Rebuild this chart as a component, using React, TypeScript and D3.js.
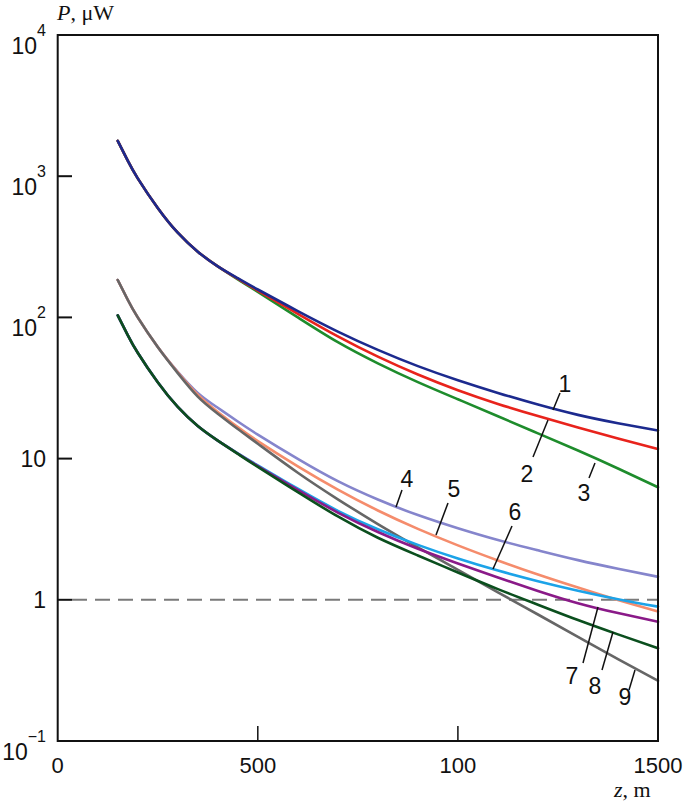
import React from 'react';
import * as d3 from 'd3';

// distances along z, m
const zValues = [150, 175, 200, 250, 300, 350, 400, 450, 500, 600, 700, 800, 900, 1000, 1100, 1200, 1300, 1400, 1500];

// P, µW
const curve1 = [1778, 1288, 966, 596, 398, 292, 230, 189.5, 157.6, 110.9, 79.4, 58.9, 45.2, 35.9, 29.2, 24.15, 20.4, 17.8, 15.8];
const curve2 = [1778, 1288, 966, 596, 398, 292, 230, 187.9, 154.9, 105.9, 73.3, 52.7, 39.4, 30.5, 24.4, 20.0, 16.6, 13.9, 11.7];
const curve3 = [1778, 1288, 966, 596, 398, 292, 230, 186.2, 151.4, 100, 66.8, 47.3, 34.8, 26.3, 19.95, 15.1, 11.4, 8.51, 6.27];
const curve4 = [184, 133.4, 100, 61.7, 41.2, 29.2, 22.9, 18.3, 14.8, 9.95, 6.92, 5.13, 3.98, 3.21, 2.65, 2.24, 1.91, 1.66, 1.455];
const curve5 = [184, 133.4, 100, 61.7, 40.9, 28.35, 21.4, 16.7, 13.3, 8.81, 6.03, 4.29, 3.18, 2.43, 1.9, 1.51, 1.22, 0.995, 0.826];
const curve6 = [103.5, 75, 56.2, 34.7, 23.2, 17, 13.41, 10.9, 8.95, 6.12, 4.27, 3.16, 2.45, 1.96, 1.61, 1.355, 1.16, 1.01, 0.895];
const curve7 = [103.5, 75, 56.2, 34.7, 23.2, 17, 13.41, 10.85, 8.85, 6.0, 4.15, 3.02, 2.3, 1.81, 1.44, 1.156, 0.946, 0.805, 0.698];
const curve8 = [103.5, 75, 56.2, 34.7, 23.2, 17, 13.41, 10.8, 8.73, 5.79, 3.89, 2.75, 2.06, 1.56, 1.19, 0.923, 0.719, 0.569, 0.454];
const curve9 = [184, 133.4, 100, 61.7, 40.3, 27.5, 20.8, 16.2, 12.74, 7.94, 5.15, 3.44, 2.355, 1.63, 1.13, 0.787, 0.547, 0.38, 0.267];

const xTickValues = [0, 500, 1000, 1500];
const xTickLabels = ['0', '500', '100', '1500'];
const yTickValues = [1e4, 1e3, 1e2, 10, 1, 0.1];
const yTickBase = ['10', '10', '10', '10', '1', '10'];
const yTickExp = ['4', '3', '2', '', '', '\u22121'];

const labelNames = ['1', '2', '3', '4', '5', '6', '7', '8', '9'];

// drawing order: back to front
const series = [
  { name: '4', values: curve4, color: '#8585cc' },
  { name: '5', values: curve5, color: '#f58c6c' },
  { name: '9', values: curve9, color: '#666666' },
  { name: '6', values: curve6, color: '#1ca3e8' },
  { name: '7', values: curve7, color: '#8a1a88' },
  { name: '8', values: curve8, color: '#0b4f1e' },
  { name: '3', values: curve3, color: '#1e8c2c' },
  { name: '2', values: curve2, color: '#e8231c' },
  { name: '1', values: curve1, color: '#1c2a8e' },
];

// text position and leader line for each curve number
const labelLayout: Record<string, { tx: number; ty: number; l: [number, number, number, number] }> = {
  '1': { tx: 565, ty: 392, l: [560, 393, 553, 410] },
  '2': { tx: 527, ty: 482, l: [548, 420, 533, 457] },
  '3': { tx: 584, ty: 501, l: [595, 463, 589, 478] },
  '4': { tx: 407, ty: 487, l: [402, 490, 396, 507] },
  '5': { tx: 454, ty: 497, l: [448, 503, 436, 535] },
  '6': { tx: 515, ty: 520, l: [512, 526, 493, 569] },
  '7': { tx: 572, ty: 684, l: [583, 663, 598, 607] },
  '8': { tx: 595, ty: 694, l: [602, 670, 613, 632] },
  '9': { tx: 625, ty: 705, l: [629, 690, 635, 670] },
};

const W = 685;
const H = 805;

export default function App() {
  const x = d3.scaleLinear().domain([0, 1500]).range([57.7, 658]);
  const y = d3.scaleLog().domain([0.1, 1e4]).range([741, 35]);

  const line = d3.line<[number, number]>()
    .x(d => x(d[0]))
    .y(d => y(d[1]))
    .curve(d3.curveNatural);

  const sans = 'Arial, "Liberation Sans", sans-serif';
  const serif = '"Times New Roman", "Liberation Serif", serif';

  return (
    <svg width={W} height={H} style={{ position: 'absolute', left: 0, top: 0, background: '#fff' }}>
      {/* dashed reference at 1 µW */}
      <line x1={72} x2={658} y1={y(1)} y2={y(1)} stroke="#7a7a7a" strokeWidth={2} strokeDasharray="15,8" />

      {series.map(s => (
        <path
          key={s.name}
          d={line(zValues.map((z, i) => [z, s.values[i]] as [number, number])) || ''}
          fill="none"
          stroke={s.color}
          strokeWidth={2.6}
          strokeLinejoin="round"
          strokeLinecap="round"
        />
      ))}

      {/* frame */}
      <rect x={57.7} y={35} width={658 - 57.7} height={741 - 35} fill="none" stroke="#111" strokeWidth={2} />

      {/* y ticks */}
      {yTickValues.map((v, i) => (
        <g key={'y' + i}>
          {i > 0 && i < yTickValues.length - 1 && (
            <line x1={57.7} x2={72} y1={y(v)} y2={y(v)} stroke="#111" strokeWidth={2} />
          )}
          {yTickExp[i] ? (
            <text x={46} y={y(v) + 18.5} textAnchor="end" fontFamily={sans} fontSize={23} fill="#111">
              {yTickBase[i]}
              <tspan dy={-18} fontSize={16}>{yTickExp[i]}</tspan>
            </text>
          ) : (
            <text x={46} y={y(v) + 8} textAnchor="end" fontFamily={sans} fontSize={23} fill="#111">
              {yTickBase[i]}
            </text>
          )}
        </g>
      ))}

      {/* x ticks */}
      {xTickValues.map((v, i) => (
        <g key={'x' + i}>
          {i > 0 && i < xTickValues.length - 1 && (
            <line x1={x(v)} x2={x(v)} y1={741} y2={726} stroke="#111" strokeWidth={1.5} />
          )}
          <text x={x(v)} y={773} textAnchor="middle" fontFamily={sans} fontSize={22} fill="#111">
            {xTickLabels[i]}
          </text>
        </g>
      ))}

      {/* axis titles */}
      <text x={57} y={20} fontFamily={serif} fontSize={22} fill="#111">
        <tspan fontStyle="italic">P</tspan>, μW
      </text>
      <text x={614} y={797} fontFamily={serif} fontSize={22} fill="#111">
        <tspan fontStyle="italic">z</tspan>, m
      </text>

      {/* curve labels */}
      {labelNames.map(n => {
        const c = labelLayout[n];
        return (
          <g key={'lab' + n}>
            <line x1={c.l[0]} y1={c.l[1]} x2={c.l[2]} y2={c.l[3]} stroke="#111" strokeWidth={1.5} />
            <text x={c.tx} y={c.ty} textAnchor="middle" fontFamily={sans} fontSize={23} fill="#111">{n}</text>
          </g>
        );
      })}
    </svg>
  );
}
